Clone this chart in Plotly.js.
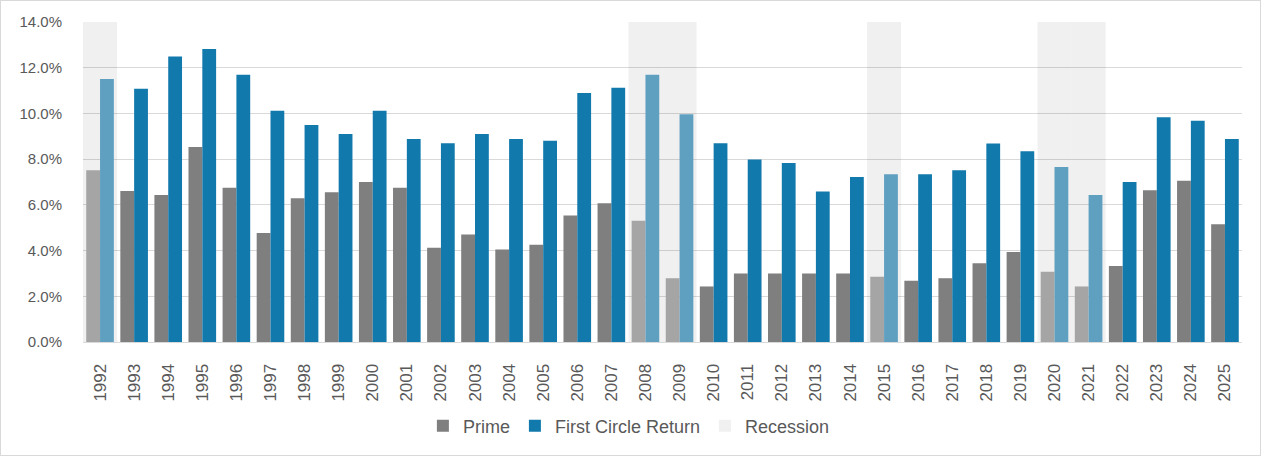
<!DOCTYPE html>
<html>
<head>
<meta charset="utf-8">
<script src="https://cdn.plot.ly/plotly-3.0.1.min.js"></script>
<style>
  html, body { margin: 0; padding: 0; background: #ffffff; }
  #chart { width: 1259px; height: 454px; border: 1px solid #d9d9d9; }
</style>
</head>
<body>
<div id="chart"></div>
<script>
const years = ["1992","1993","1994","1995","1996","1997","1998","1999","2000","2001",
  "2002","2003","2004","2005","2006","2007","2008","2009","2010","2011",
  "2012","2013","2014","2015","2016","2017","2018","2019","2020","2021",
  "2022","2023","2024","2025"];

const prime = [7.51, 6.61, 6.43, 8.53, 6.75, 4.77, 6.29, 6.55, 7.00, 6.75,
  4.12, 4.70, 4.05, 4.26, 5.53, 6.07, 5.31, 2.79, 2.43, 3.00,
  3.00, 3.00, 3.00, 2.85, 2.68, 2.79, 3.44, 3.94, 3.07, 2.43,
  3.32, 6.64, 7.05, 5.15];

const firstCircleReturn = [11.51, 11.08, 12.49, 12.82, 11.69, 10.12, 9.49, 9.10, 10.12, 8.88,
  8.70, 9.10, 8.88, 8.81, 10.89, 11.12, 11.69, 9.96, 8.70, 7.98,
  7.83, 6.58, 7.22, 7.34, 7.34, 7.51, 8.68, 8.34, 7.66, 6.43,
  7.00, 9.83, 9.68, 8.88];

// 1 = recession year
const recession = [1,0,0,0,0,0,0,0,0,0,
  0,0,0,0,0,0,1,1,0,0,
  0,0,0,1,0,0,0,0,1,1,
  0,0,0,0];

const recessionHeight = 14;

const primeColor = '#7f7f7f', primeLight = '#a5a5a5';
const fcrColor = '#1279ad', fcrLight = '#5fa0c1';
const primeColors = recession.map(r => r ? primeLight : primeColor);
const fcrColors = recession.map(r => r ? fcrLight : fcrColor);

const font = "'Liberation Sans', Arial, sans-serif";
const textColor = '#595959';

const traces = [
  {
    type: 'bar', name: 'Recession', x: years,
    y: recession.map(r => r ? recessionHeight : null),
    width: 1, offset: -0.5,
    marker: { color: 'rgba(0,0,0,0.058)', line: { width: 0 } },
    legendrank: 3, hoverinfo: 'skip'
  },
  {
    type: 'bar', name: 'Prime', x: years, y: prime,
    width: 0.405, offset: -0.405,
    marker: { color: primeColors, line: { width: 0 } },
    showlegend: false
  },
  {
    type: 'bar', name: 'First Circle Return', x: years, y: firstCircleReturn,
    width: 0.405, offset: 0,
    marker: { color: fcrColors, line: { width: 0 } },
    showlegend: false
  },
  // legend entries with the solid series colours
  {
    type: 'bar', name: 'Prime', x: [years[0]], y: [null],
    marker: { color: primeColor }, legendrank: 1, hoverinfo: 'skip'
  },
  {
    type: 'bar', name: 'First Circle Return', x: [years[0]], y: [null],
    marker: { color: fcrColor }, legendrank: 2, hoverinfo: 'skip'
  }
];

const layout = {
  width: 1259, height: 454,
  margin: { l: 82, r: 18, t: 21, b: 112 },
  paper_bgcolor: '#ffffff', plot_bgcolor: '#ffffff',
  barmode: 'overlay',
  showlegend: true,
  font: { family: font, color: textColor },
  xaxis: {
    type: 'category',
    range: [-0.5, years.length - 0.5],
    tickangle: -90,
    tickfont: { family: font, size: 17, color: textColor },
    showgrid: false,
    showline: true, linecolor: '#d9d9d9', linewidth: 1,
    ticks: 'outside', ticklen: 14, tickcolor: 'rgba(0,0,0,0)',
    fixedrange: true
  },
  yaxis: {
    range: [0, 14],
    dtick: 2,
    tickformat: '.1f', ticksuffix: '%',
    tickfont: { family: font, size: 15, color: textColor },
    showgrid: true, gridcolor: '#d9d9d9', gridwidth: 1,
    zeroline: true, zerolinecolor: '#d9d9d9', zerolinewidth: 1,
    ticks: 'outside', ticklen: 17, tickcolor: 'rgba(0,0,0,0)',
    fixedrange: true
  },
  legend: {
    orientation: 'h',
    x: 0.471, xanchor: 'center',
    y: -0.259, yanchor: 'middle',
    font: { family: font, size: 18, color: textColor },
    bgcolor: 'rgba(0,0,0,0)'
  }
};

Plotly.newPlot('chart', traces, layout, { displayModeBar: false, staticPlot: true });
</script>
</body>
</html>
